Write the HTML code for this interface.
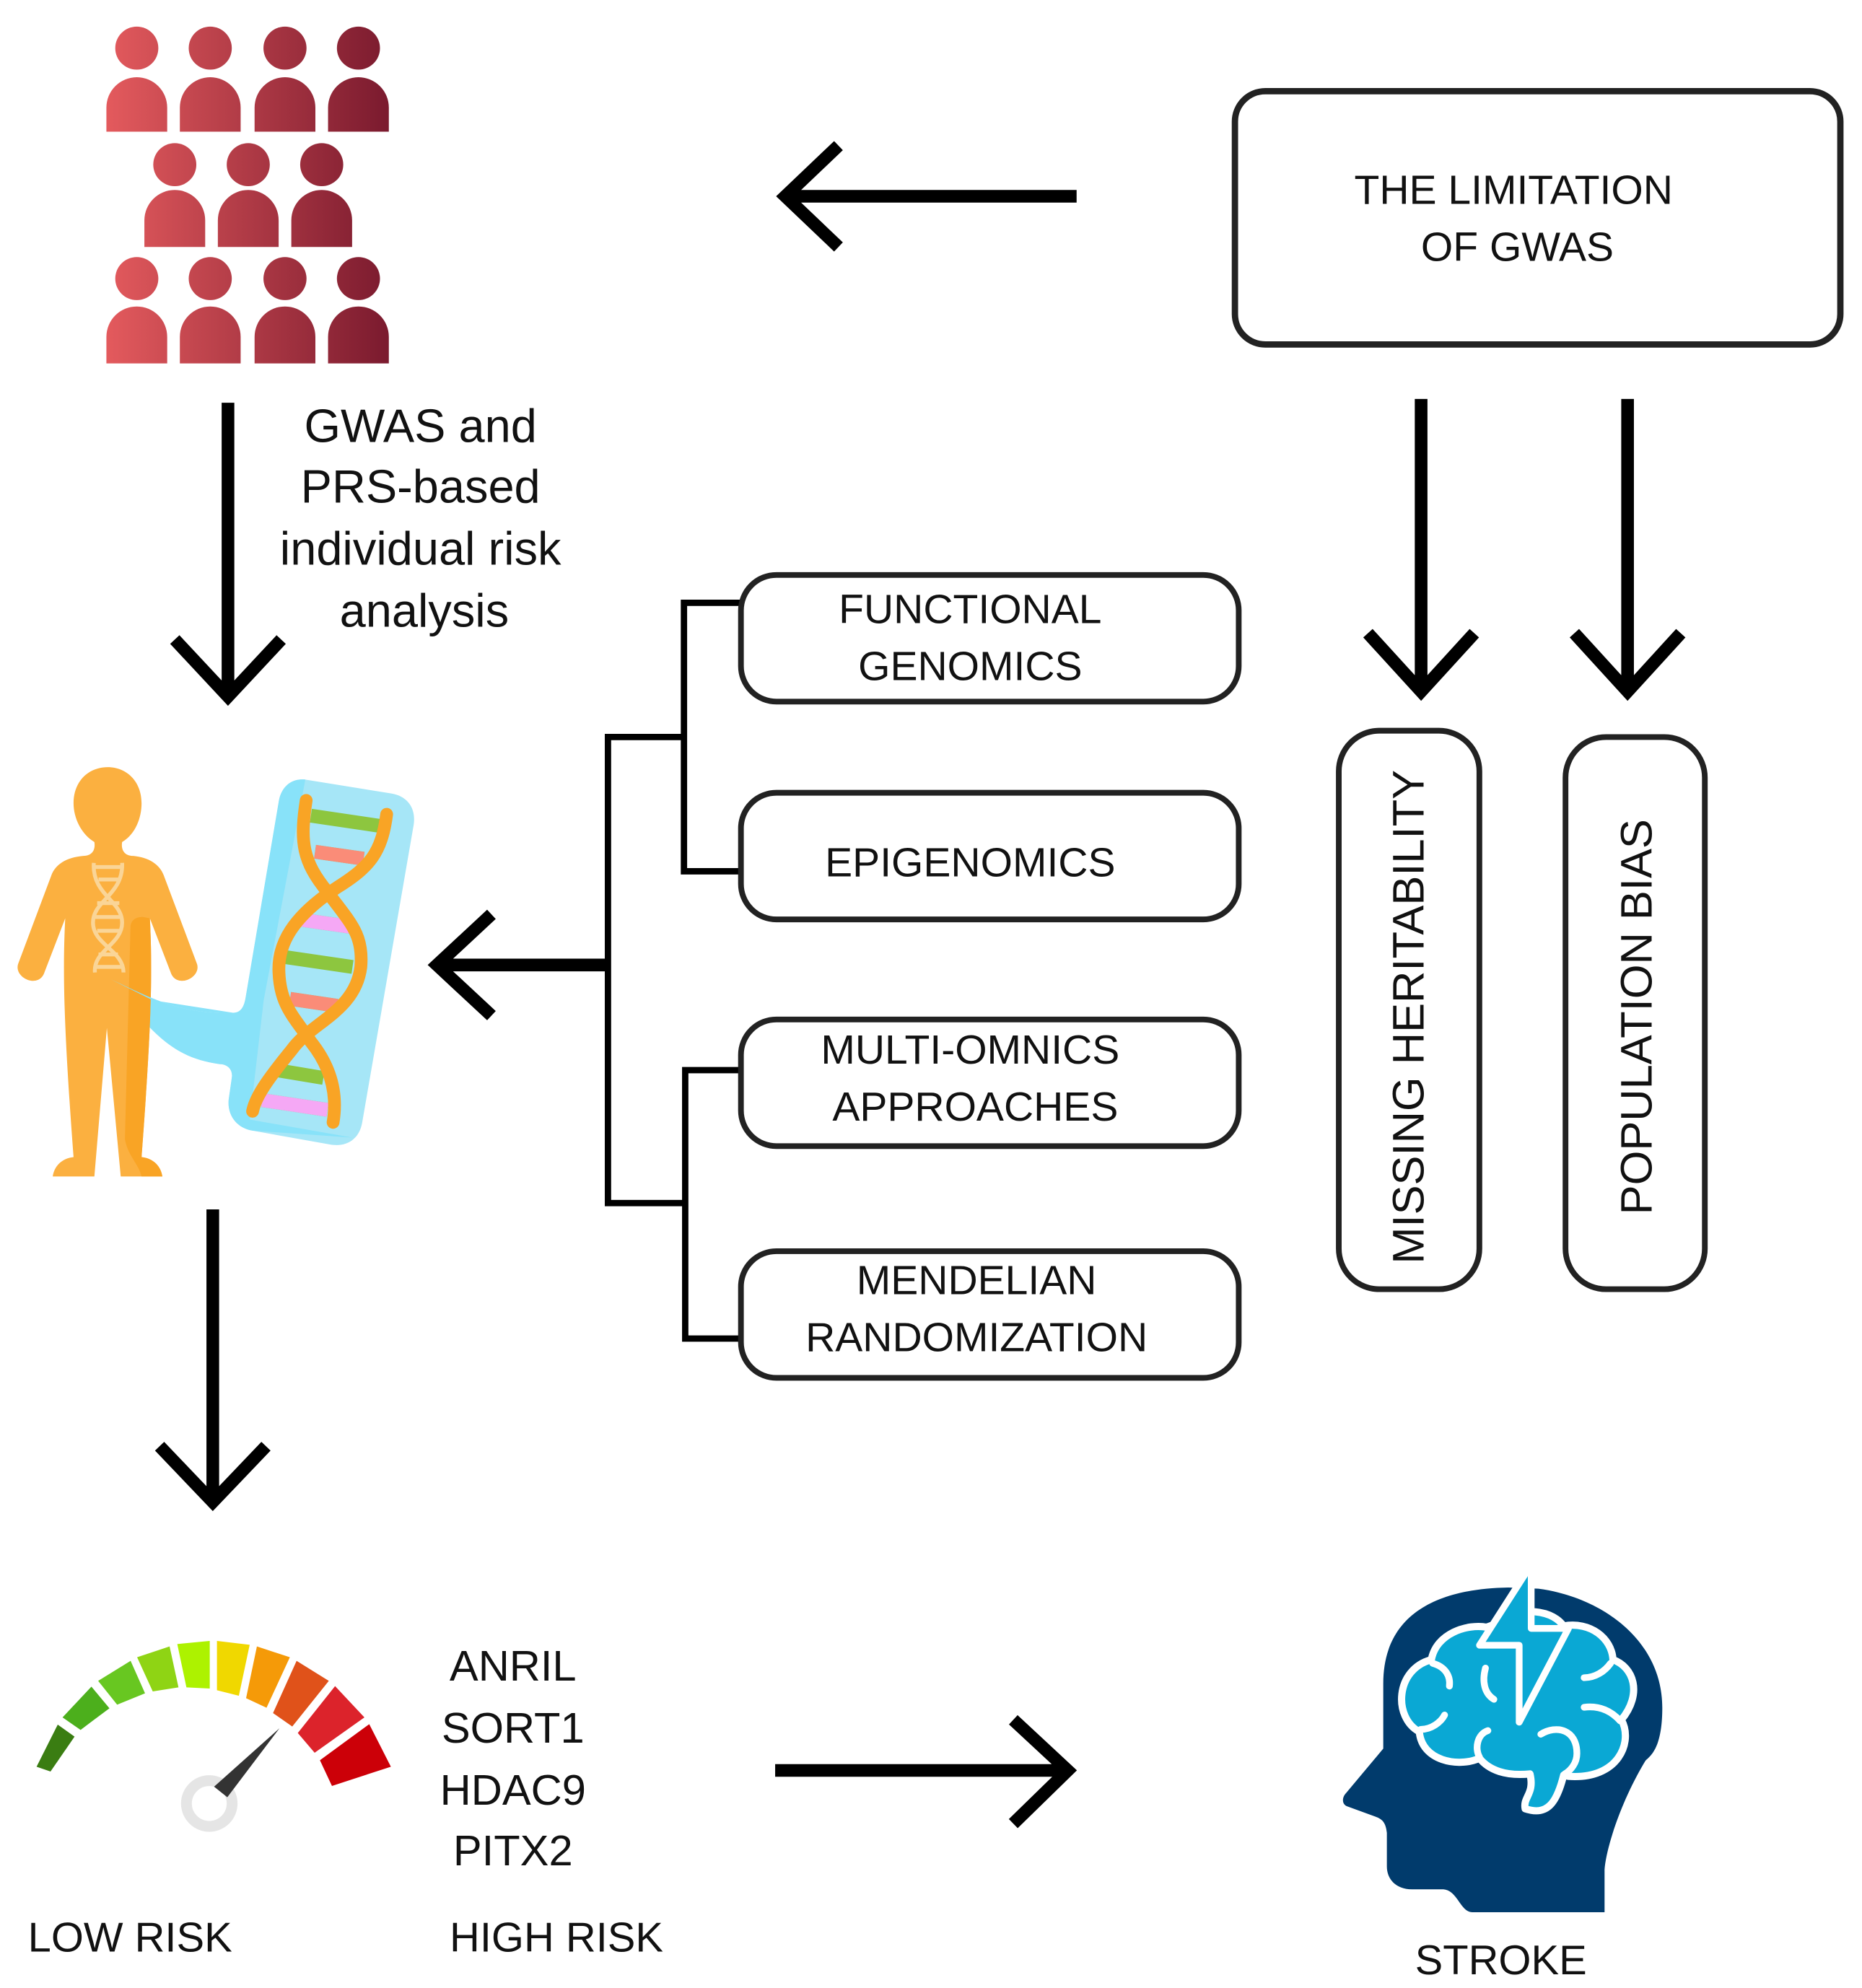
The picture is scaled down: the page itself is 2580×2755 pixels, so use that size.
<!DOCTYPE html>
<html><head><meta charset="utf-8"><style>
html,body{margin:0;padding:0;background:#fff;}
svg{display:block;}
text{font-family:"Liberation Sans","DejaVu Sans",sans-serif;fill:#111;}
</style></head><body>
<svg width="2580" height="2755" viewBox="0 0 2580 2755" xmlns="http://www.w3.org/2000/svg">
<defs>
<linearGradient id="pg" gradientUnits="userSpaceOnUse" x1="85" y1="0" x2="308" y2="0">
<stop offset="0" stop-color="#e35a5d"/><stop offset="1" stop-color="#7a1a2e"/>
</linearGradient>
</defs>
<g transform="scale(1.755)">
<g fill="url(#pg)">
<circle cx="108" cy="38" r="17"/><circle cx="166" cy="38" r="17"/><circle cx="225" cy="38" r="17"/><circle cx="283" cy="38" r="17"/>
<path d="M84,104 V85 a24,24 0 0 1 48,0 V104Z"/><path d="M142,104 V85 a24,24 0 0 1 48,0 V104Z"/><path d="M201,104 V85 a24,24 0 0 1 48,0 V104Z"/><path d="M259,104 V85 a24,24 0 0 1 48,0 V104Z"/>
<circle cx="138" cy="130" r="17"/><circle cx="196" cy="130" r="17"/><circle cx="254" cy="130" r="17"/>
<path d="M114,195 V174 a24,24 0 0 1 48,0 V195Z"/><path d="M172,195 V174 a24,24 0 0 1 48,0 V195Z"/><path d="M230,195 V174 a24,24 0 0 1 48,0 V195Z"/>
<circle cx="108" cy="220" r="17"/><circle cx="166" cy="220" r="17"/><circle cx="225" cy="220" r="17"/><circle cx="283" cy="220" r="17"/>
<path d="M84,287 V266 a24,24 0 0 1 48,0 V287Z"/><path d="M142,287 V266 a24,24 0 0 1 48,0 V287Z"/><path d="M201,287 V266 a24,24 0 0 1 48,0 V287Z"/><path d="M259,287 V266 a24,24 0 0 1 48,0 V287Z"/>
</g>
<g stroke="#000" stroke-width="10" fill="none">
<path d="M850,155 H622 M662,115 L620,155 L662,195"/>
<path d="M180,318 V548 M138,505 L180,550 L222,505"/>
<path d="M1122,315 V546 M1080,500 L1122,546 L1164,500"/>
<path d="M1285,315 V546 M1243,500 L1285,546 L1327,500"/>
<path d="M480,762 H346 M388,722 L345,762 L388,802"/>
<path d="M168,955 V1186 M126,1142 L168,1186 L210,1142"/>
<path d="M612,1398 H843 M800,1358 L843,1398 L800,1440"/>
</g>
<g stroke="#000" stroke-width="5" fill="none">
<path d="M585,476 H540 V688 H585"/>
<path d="M540,582 H480 V950 H541"/>
<path d="M585,845 H541 V1057 H585"/>
</g>
<g stroke="#222" fill="#fff">
<rect x="975" y="72" width="478" height="200" rx="24" stroke-width="5"/>
<rect x="585" y="454" width="393" height="100" rx="28" stroke-width="4.5"/>
<rect x="585" y="626" width="393" height="100" rx="28" stroke-width="4.5"/>
<rect x="585" y="805" width="393" height="100" rx="28" stroke-width="4.5"/>
<rect x="585" y="988" width="393" height="100" rx="28" stroke-width="4.5"/>
<rect x="1057" y="577" width="111" height="441" rx="32" stroke-width="4.5"/>
<rect x="1236" y="582" width="110" height="436" rx="32" stroke-width="4.5"/>
</g>
<g font-size="32.5" text-anchor="middle">
<text x="1195" y="161">THE LIMITATION</text>
<text x="1198" y="206">OF GWAS</text>
<text x="766" y="492">FUNCTIONAL</text>
<text x="766" y="537">GENOMICS</text>
<text x="766" y="692">EPIGENOMICS</text>
<text x="766" y="840">MULTI-OMNICS</text>
<text x="770" y="885">APPROACHES</text>
<text x="771" y="1022">MENDELIAN</text>
<text x="771" y="1067">RANDOMIZATION</text>
<text transform="translate(1124,803) rotate(-90)" font-size="35">MISSING HERITABILITY</text>
<text transform="translate(1304,803) rotate(-90)" font-size="35">POPULATION BIAS</text>
</g>
<g font-size="37" text-anchor="middle">
<text x="332" y="349">GWAS and</text>
<text x="332" y="397">PRS-based</text>
<text x="332" y="446">individual risk</text>
<text x="335" y="495">analysis</text>
</g>
<g font-size="34" text-anchor="middle">
<text x="405" y="1327">ANRIL</text>
<text x="405" y="1376">SORT1</text>
<text x="405" y="1425">HDAC9</text>
<text x="405" y="1473">PITX2</text>
</g>
<g font-size="33">
<text x="22" y="1541">LOW RISK</text>
<text x="355" y="1541">HIGH RISK</text>
<text x="1185" y="1559" text-anchor="middle">STROKE</text>
</g>
</g>
<g transform="translate(0,1040) scale(0.3846)">
<path d="M1100,105 L1410,155 C1470,165 1500,210 1490,270 L1305,1340 C1295,1400 1250,1430 1190,1420 L910,1370 C850,1360 815,1310 825,1250 L835,1180 C840,1150 820,1130 790,1130 C650,1110 560,1050 400,825 C560,900 650,950 840,945 C870,945 880,920 885,890 L1005,180 C1015,130 1050,100 1100,105Z" fill="#a6e6f7"/>
<path d="M1100,105 C1050,100 1015,130 1005,180 L885,890 C880,920 870,945 840,945 C650,950 560,900 400,825 C560,1050 650,1110 790,1130 C820,1130 840,1150 835,1180 L825,1250 C815,1310 850,1360 910,1370 L1270,1395 L900,1330 L950,900 Z" fill="#88e2f9"/>
<path d="M300,380 C240,385 200,410 185,450 L65,770 C50,820 140,860 160,800 L235,605 C225,800 230,1000 265,1465 C220,1470 195,1500 190,1535 L340,1535 L385,1000 L435,1535 L585,1535 C580,1500 555,1470 510,1465 C545,1000 550,800 540,605 L615,800 C635,860 725,820 710,770 L590,450 C575,410 535,385 480,380 C450,380 435,360 440,330 C490,300 510,240 510,190 C510,110 455,60 388,60 C320,60 265,110 265,190 C265,240 290,300 340,330 C345,360 330,380 300,380Z" fill="#fbb040"/>
<path d="M470,640 C470,610 490,600 515,600 L540,605 C550,800 545,1000 510,1465 C555,1470 580,1500 585,1535 L510,1535 C500,1490 460,1460 450,1400 Z" fill="#f9a425"/>
<path d="M400,825 C560,900 650,950 840,945 L550,900 Z" fill="#88e2f9"/>
<g stroke="#fad597" stroke-width="14" fill="none">
<path d="M338,405 C330,520 440,540 440,620 C440,700 335,720 342,800"/>
<path d="M440,405 C445,520 335,540 335,620 C335,700 445,720 445,800"/>
<path d="M340,420 H440 M355,465 H425 M350,550 H430 M340,600 H440 M350,650 H430 M355,735 H425 M340,780 H445"/>
</g>
<g stroke-width="50" fill="none">
<path d="M1120,235 L1370,272 M1135,365 L1310,390 M1085,610 L1260,635 M1030,745 L1270,780 M1045,895 L1215,920 M985,1150 L1165,1180 M945,1260 L1180,1295" stroke="#8dc63f"/>
<path d="M1135,365 L1310,390 M1045,895 L1215,920" stroke="#fa8c78"/>
<path d="M1085,610 L1260,635 M945,1260 L1180,1295" stroke="#f5a8f5"/>
</g>
<g stroke="#f9a425" stroke-width="46" fill="none" stroke-linecap="round">
<path d="M1103,180 C1080,330 1090,400 1180,510 C1260,620 1310,660 1300,780 C1280,940 1120,980 1050,1080 C960,1190 920,1250 910,1300"/>
<path d="M1393,230 C1375,370 1330,420 1220,490 C1050,600 1000,700 1005,800 C1010,920 1060,960 1120,1050 C1200,1150 1215,1250 1200,1340"/>
</g>
</g>
<g transform="translate(30,2240) scale(0.3333)">
<polygon points="150,450 220,500 120,645 62,625" fill="#3a7d12"/>
<polygon points="170,420 290,292 365,382 245,472" fill="#4caf1c"/>
<polygon points="318,268 453,185 513,320 397,367" fill="#68c721"/>
<polygon points="480,170 615,125 652,295 545,312" fill="#8fd414"/>
<polygon points="647,115 782,102 782,300 685,295" fill="#adf200"/>
<polygon points="812,102 948,118 903,330 812,307" fill="#f0d800"/>
<polygon points="978,125 1115,170 1018,380 933,340" fill="#f59a08"/>
<polygon points="1143,185 1277,268 1125,458 1045,402" fill="#e0521a"/>
<polygon points="1303,290 1425,420 1218,567 1148,485" fill="#dc232b"/>
<polygon points="1445,448 1535,625 1290,705 1240,598" fill="#cc0008"/>
<circle cx="780" cy="778" r="95" fill="none" stroke="#e5e5e5" stroke-width="45"/>
<polygon points="1072,465 855,752 800,708" fill="#333"/>
</g>
<g transform="translate(1820,2140) scale(0.3333)">
<path d="M290,850 L290,580 C290,300 500,185 810,180 L935,185 C1200,220 1450,400 1450,680 C1450,850 1400,880 1380,900 C1260,1100 1210,1300 1210,1360 L1210,1530 L660,1530 C610,1530 600,1440 540,1435 L410,1435 C340,1435 305,1390 305,1340 L305,1200 C300,1150 280,1140 250,1130 L140,1090 C115,1080 120,1050 135,1035 Z" fill="#013b6c"/>
<path d="M490,480 C510,370 640,330 720,345 L900,280 C960,280 1010,300 1040,340 C1150,320 1240,390 1245,480 C1330,510 1370,620 1280,730 C1330,820 1270,980 1060,965 L1040,960 C1010,1080 970,1130 880,1100 C870,1050 920,1040 900,955 C800,965 730,940 690,890 C600,930 450,900 440,780 C330,720 340,520 490,480 Z" fill="#0aa8d4" stroke="#fff" stroke-width="30" stroke-linejoin="round"/>
<g fill="none" stroke="#fff" stroke-width="28" stroke-linecap="round">
<path d="M495,495 C550,510 570,550 565,590"/>
<path d="M445,770 C490,770 530,740 545,710"/>
<path d="M715,515 C700,570 710,620 750,645"/>
<path d="M1125,555 C1170,555 1210,530 1235,495"/>
<path d="M1125,678 C1190,670 1240,695 1275,735"/>
<path d="M945,790 C1010,750 1095,770 1095,870 C1095,910 1070,940 1045,955"/>
<path d="M725,775 C680,790 670,850 690,885"/>
</g>
<polygon points="905,85 905,350 1060,350 855,740 855,420 690,420" fill="#0aa8d4" stroke="#fff" stroke-width="28" stroke-linejoin="round"/>
</g>
</svg>
</body></html>
